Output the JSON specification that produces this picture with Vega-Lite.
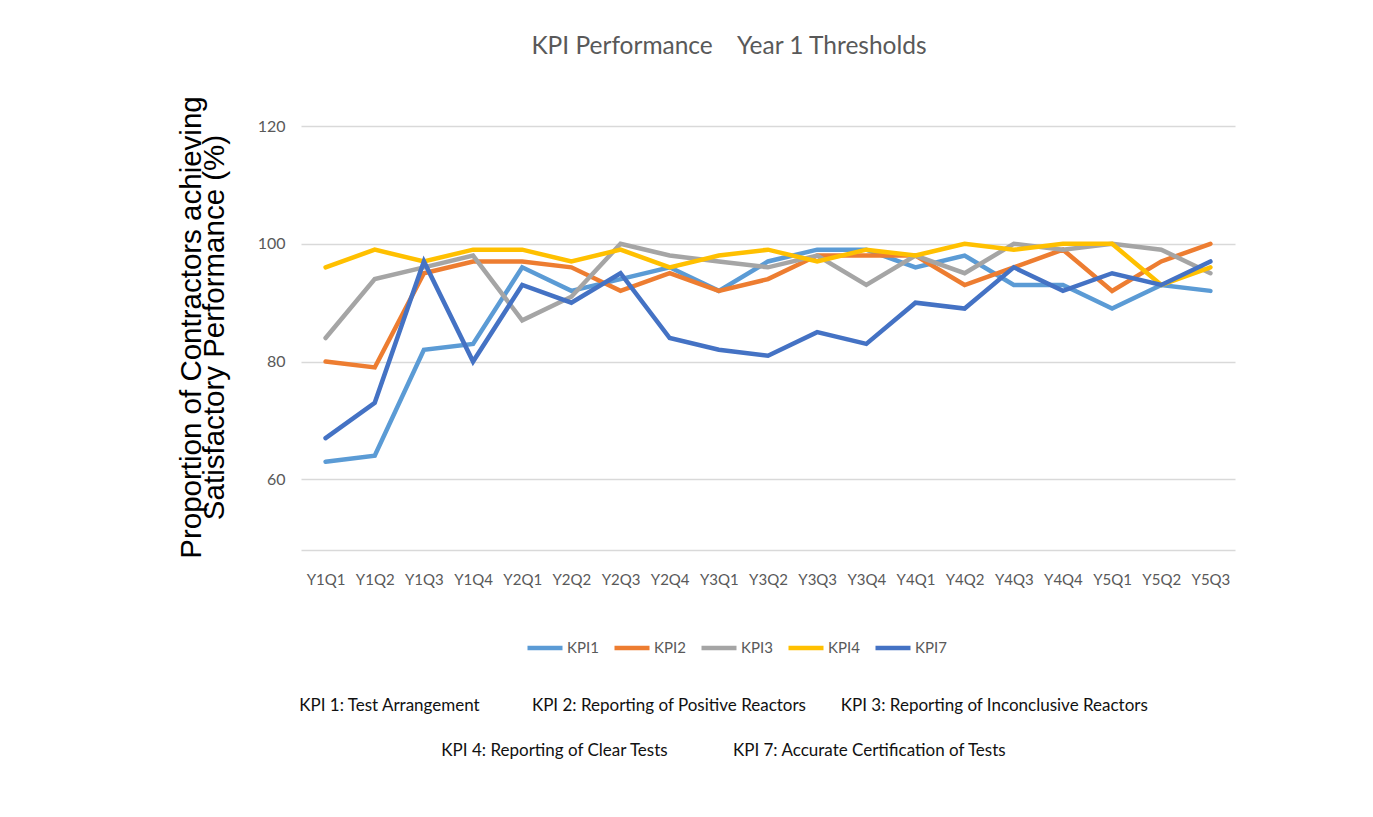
{
  "$schema": "https://vega.github.io/schema/vega-lite/v6.json",
  "autosize": {"type": "none"},
  "padding": {"left": 301, "top": 126, "right": 138, "bottom": 267},
  "width": 934,
  "height": 424,
  "background": "white",
  "title": {
    "text": "KPI Performance\u00a0\u00a0\u00a0 Year 1 Thresholds",
    "font": "Lato",
    "fontSize": 24.5,
    "fontWeight": "normal",
    "color": "#595959",
    "offset": 36,
    "dx": -39
  },
  "data": {
    "values": [
      {"q": "Y1Q1", "kpi": "KPI1", "v": 63}, {"q": "Y1Q2", "kpi": "KPI1", "v": 64}, {"q": "Y1Q3", "kpi": "KPI1", "v": 82}, {"q": "Y1Q4", "kpi": "KPI1", "v": 83},
      {"q": "Y2Q1", "kpi": "KPI1", "v": 96}, {"q": "Y2Q2", "kpi": "KPI1", "v": 92}, {"q": "Y2Q3", "kpi": "KPI1", "v": 94}, {"q": "Y2Q4", "kpi": "KPI1", "v": 96},
      {"q": "Y3Q1", "kpi": "KPI1", "v": 92}, {"q": "Y3Q2", "kpi": "KPI1", "v": 97}, {"q": "Y3Q3", "kpi": "KPI1", "v": 99}, {"q": "Y3Q4", "kpi": "KPI1", "v": 99},
      {"q": "Y4Q1", "kpi": "KPI1", "v": 96}, {"q": "Y4Q2", "kpi": "KPI1", "v": 98}, {"q": "Y4Q3", "kpi": "KPI1", "v": 93}, {"q": "Y4Q4", "kpi": "KPI1", "v": 93},
      {"q": "Y5Q1", "kpi": "KPI1", "v": 89}, {"q": "Y5Q2", "kpi": "KPI1", "v": 93}, {"q": "Y5Q3", "kpi": "KPI1", "v": 92},

      {"q": "Y1Q1", "kpi": "KPI2", "v": 80}, {"q": "Y1Q2", "kpi": "KPI2", "v": 79}, {"q": "Y1Q3", "kpi": "KPI2", "v": 95}, {"q": "Y1Q4", "kpi": "KPI2", "v": 97},
      {"q": "Y2Q1", "kpi": "KPI2", "v": 97}, {"q": "Y2Q2", "kpi": "KPI2", "v": 96}, {"q": "Y2Q3", "kpi": "KPI2", "v": 92}, {"q": "Y2Q4", "kpi": "KPI2", "v": 95},
      {"q": "Y3Q1", "kpi": "KPI2", "v": 92}, {"q": "Y3Q2", "kpi": "KPI2", "v": 94}, {"q": "Y3Q3", "kpi": "KPI2", "v": 98}, {"q": "Y3Q4", "kpi": "KPI2", "v": 98},
      {"q": "Y4Q1", "kpi": "KPI2", "v": 98}, {"q": "Y4Q2", "kpi": "KPI2", "v": 93}, {"q": "Y4Q3", "kpi": "KPI2", "v": 96}, {"q": "Y4Q4", "kpi": "KPI2", "v": 99},
      {"q": "Y5Q1", "kpi": "KPI2", "v": 92}, {"q": "Y5Q2", "kpi": "KPI2", "v": 97}, {"q": "Y5Q3", "kpi": "KPI2", "v": 100},

      {"q": "Y1Q1", "kpi": "KPI3", "v": 84}, {"q": "Y1Q2", "kpi": "KPI3", "v": 94}, {"q": "Y1Q3", "kpi": "KPI3", "v": 96}, {"q": "Y1Q4", "kpi": "KPI3", "v": 98},
      {"q": "Y2Q1", "kpi": "KPI3", "v": 87}, {"q": "Y2Q2", "kpi": "KPI3", "v": 91}, {"q": "Y2Q3", "kpi": "KPI3", "v": 100}, {"q": "Y2Q4", "kpi": "KPI3", "v": 98},
      {"q": "Y3Q1", "kpi": "KPI3", "v": 97}, {"q": "Y3Q2", "kpi": "KPI3", "v": 96}, {"q": "Y3Q3", "kpi": "KPI3", "v": 98}, {"q": "Y3Q4", "kpi": "KPI3", "v": 93},
      {"q": "Y4Q1", "kpi": "KPI3", "v": 98}, {"q": "Y4Q2", "kpi": "KPI3", "v": 95}, {"q": "Y4Q3", "kpi": "KPI3", "v": 100}, {"q": "Y4Q4", "kpi": "KPI3", "v": 99},
      {"q": "Y5Q1", "kpi": "KPI3", "v": 100}, {"q": "Y5Q2", "kpi": "KPI3", "v": 99}, {"q": "Y5Q3", "kpi": "KPI3", "v": 95},

      {"q": "Y1Q1", "kpi": "KPI4", "v": 96}, {"q": "Y1Q2", "kpi": "KPI4", "v": 99}, {"q": "Y1Q3", "kpi": "KPI4", "v": 97}, {"q": "Y1Q4", "kpi": "KPI4", "v": 99},
      {"q": "Y2Q1", "kpi": "KPI4", "v": 99}, {"q": "Y2Q2", "kpi": "KPI4", "v": 97}, {"q": "Y2Q3", "kpi": "KPI4", "v": 99}, {"q": "Y2Q4", "kpi": "KPI4", "v": 96},
      {"q": "Y3Q1", "kpi": "KPI4", "v": 98}, {"q": "Y3Q2", "kpi": "KPI4", "v": 99}, {"q": "Y3Q3", "kpi": "KPI4", "v": 97}, {"q": "Y3Q4", "kpi": "KPI4", "v": 99},
      {"q": "Y4Q1", "kpi": "KPI4", "v": 98}, {"q": "Y4Q2", "kpi": "KPI4", "v": 100}, {"q": "Y4Q3", "kpi": "KPI4", "v": 99}, {"q": "Y4Q4", "kpi": "KPI4", "v": 100},
      {"q": "Y5Q1", "kpi": "KPI4", "v": 100}, {"q": "Y5Q2", "kpi": "KPI4", "v": 93}, {"q": "Y5Q3", "kpi": "KPI4", "v": 96},

      {"q": "Y1Q1", "kpi": "KPI7", "v": 67}, {"q": "Y1Q2", "kpi": "KPI7", "v": 73}, {"q": "Y1Q3", "kpi": "KPI7", "v": 97}, {"q": "Y1Q4", "kpi": "KPI7", "v": 80},
      {"q": "Y2Q1", "kpi": "KPI7", "v": 93}, {"q": "Y2Q2", "kpi": "KPI7", "v": 90}, {"q": "Y2Q3", "kpi": "KPI7", "v": 95}, {"q": "Y2Q4", "kpi": "KPI7", "v": 84},
      {"q": "Y3Q1", "kpi": "KPI7", "v": 82}, {"q": "Y3Q2", "kpi": "KPI7", "v": 81}, {"q": "Y3Q3", "kpi": "KPI7", "v": 85}, {"q": "Y3Q4", "kpi": "KPI7", "v": 83},
      {"q": "Y4Q1", "kpi": "KPI7", "v": 90}, {"q": "Y4Q2", "kpi": "KPI7", "v": 89}, {"q": "Y4Q3", "kpi": "KPI7", "v": 96}, {"q": "Y4Q4", "kpi": "KPI7", "v": 92},
      {"q": "Y5Q1", "kpi": "KPI7", "v": 95}, {"q": "Y5Q2", "kpi": "KPI7", "v": 93}, {"q": "Y5Q3", "kpi": "KPI7", "v": 97}
    ]
  },
  "mark": {"type": "line", "strokeWidth": 4.5, "strokeCap": "round", "strokeJoin": "miter"},
  "encoding": {
    "x": {
      "field": "q",
      "type": "ordinal",
      "sort": null,
      "scale": {"type": "point", "padding": 0.5},
      "axis": {
        "title": [
          "KPI 1: Test Arrangement\u00a0\u00a0\u00a0\u00a0\u00a0\u00a0\u00a0\u00a0\u00a0\u00a0\u00a0 KPI 2: Reporting of Positive Reactors\u00a0\u00a0\u00a0\u00a0\u00a0\u00a0\u00a0 KPI 3: Reporting of Inconclusive Reactors",
          "KPI 4: Reporting of Clear Tests\u00a0\u00a0\u00a0\u00a0\u00a0\u00a0\u00a0\u00a0\u00a0\u00a0\u00a0\u00a0\u00a0\u00a0 KPI 7: Accurate Certification of Tests"
        ],
        "titleFont": "Lato",
        "titleFontSize": 17,
        "titleFontWeight": "normal",
        "titleColor": "#111111",
        "titleLineHeight": 45,
        "titlePadding": 110,
        "titleX": 422,
        "labelAngle": 0,
        "labelFont": "Lato",
        "labelFontSize": 15,
        "labelColor": "#595959",
        "labelPadding": 22,
        "ticks": false,
        "domainColor": "#d9d9d9",
        "domainWidth": 1.5,
        "grid": false
      }
    },
    "y": {
      "field": "v",
      "type": "quantitative",
      "scale": {"domain": [48, 120], "nice": false, "zero": false},
      "axis": {
        "values": [60, 80, 100, 120],
        "title": ["Proportion of Contractors achieving", "Satisfactory Performance (%)"],
        "titleFont": "Liberation Sans",
        "titleFontSize": 29.5,
        "titleFontWeight": "normal",
        "titleColor": "#000000",
        "titleLineHeight": 23,
        "titlePadding": 28,
        "titleY": 201,
        "labelFont": "Lato",
        "labelFontSize": 16,
        "labelColor": "#595959",
        "labelPadding": 16,
        "ticks": false,
        "domain": false,
        "grid": true,
        "gridColor": "#d9d9d9",
        "gridWidth": 1.5
      }
    },
    "color": {
      "field": "kpi",
      "type": "nominal",
      "scale": {
        "domain": ["KPI1", "KPI2", "KPI3", "KPI4", "KPI7"],
        "range": ["#5b9bd5", "#ed7d31", "#a5a5a5", "#ffc000", "#4472c4"]
      },
      "legend": {
        "title": null,
        "orient": "none",
        "direction": "horizontal",
        "legendX": 224,
        "legendY": 502,
        "symbolType": "stroke",
        "symbolSize": 1225,
        "symbolStrokeWidth": 4.5,
        "labelFont": "Lato",
        "labelFontSize": 15,
        "labelColor": "#595959",
        "labelOffset": 2,
        "columnPadding": 6
      }
    }
  },
  "config": {"view": {"stroke": null}}
}
